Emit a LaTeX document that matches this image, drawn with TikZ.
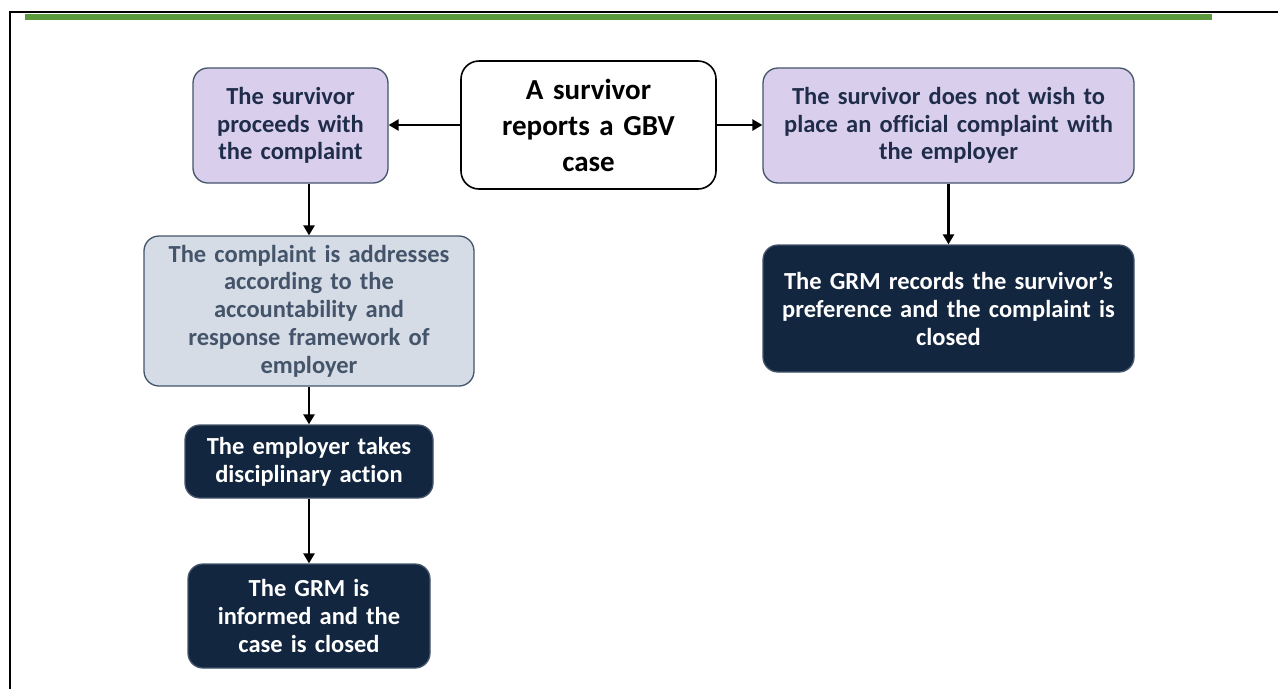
\documentclass[tikz,border=0pt]{standalone}
\usepackage{fontspec}
\setmainfont{Carlito}[Ligatures=NoCommon]
\usetikzlibrary{arrows.meta}
\definecolor{frgreen}{HTML}{5A9A3C}
\definecolor{lav}{HTML}{D9CFEC}
\definecolor{slate}{HTML}{44546A}
\definecolor{navytxt}{HTML}{1F2D4A}
\definecolor{greyblue}{HTML}{D6DCE5}
\definecolor{navy}{HTML}{13263F}
\tikzset{
  box/.style={rounded corners=15pt, line width=1.3pt, inner xsep=4pt, inner ysep=0pt, align=center,
     font=\bfseries\fontsize{24.5}{27.8}\selectfont},
  purplebox/.style={box, fill=lav, draw=slate, text=navytxt},
  greybox/.style={box, fill=greyblue, draw=slate, text=slate},
  darkbox/.style={box, fill=navy, draw=slate, text=white},
  startbox/.style={box, fill=white, draw=black, line width=1.6pt, text=black, rounded corners=18pt,
     font=\bfseries\fontsize{29}{36}\selectfont},
  arr/.style={line width=2.5pt, -{Triangle[width=11pt,length=10pt]}}
}
\begin{document}
\begin{tikzpicture}[x=1pt,y=-1pt]
\useasboundingbox (0,0) rectangle (1278,689);
% frame
\draw[line width=2.2pt] (10,689) -- (10,12) -- (1278,12);
\fill[frgreen] (25,14) rectangle (1212,19.5);
% nodes
\node[startbox, text width=247pt, minimum height=128pt] (start) at (588.5,125) {A survivor\\reports a GBV\\case};
\node[purplebox, text width=187pt, minimum height=115pt] (proceed) at (290.5,125.5) {The survivor\\proceeds with\\the complaint};
\node[purplebox, text width=363pt, minimum height=115pt] (nowish) at (948.5,125.5) {The survivor does not wish to\\place an official complaint with\\the employer};
\node[greybox, text width=322pt, minimum height=150pt] (addr) at (309,311) {The complaint is addresses\\according to the\\accountability and\\response framework of\\employer};
\node[darkbox, text width=240pt, minimum height=73pt] (emp) at (309,461.5) {The employer takes\\disciplinary action};
\node[darkbox, text width=234pt, minimum height=104pt] (grm) at (309,616) {The GRM is\\informed and the\\case is closed};
\node[darkbox, text width=363pt, minimum height=127pt] (rec) at (948.5,308.5) {The GRM records the survivor’s\\preference and the complaint is\\closed};
% connectors
\draw[arr] (start.west) -- (proceed.east |- start.west);
\draw[arr] (start.east) -- (nowish.west |- start.east);
\draw[arr] (proceed.south -| addr.north) -- (addr.north);
\draw[arr] (addr.south) -- (emp.north);
\draw[arr] (emp.south) -- (grm.north);
\draw[arr] (nowish.south) -- (rec.north);
\end{tikzpicture}
\end{document}
